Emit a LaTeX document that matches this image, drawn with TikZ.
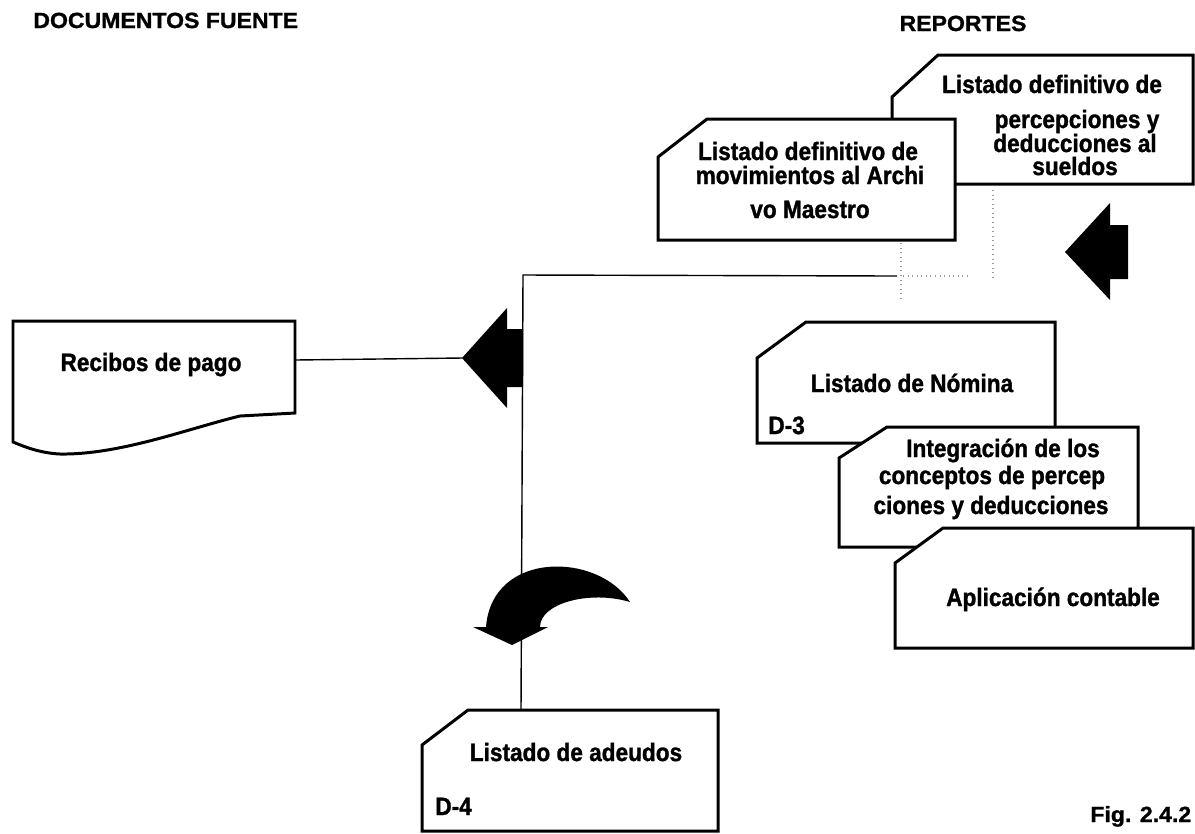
\documentclass[tikz,border=0pt]{standalone}
\usepackage{fontspec}
\setmainfont{Liberation Sans}
\newfontfamily\sheetfont[FakeBold=1.2,FakeStretch=0.9]{Liberation Sans Bold}
\newfontfamily\headfont[FakeBold=1.2,FakeStretch=1.05]{Liberation Sans Bold}
\begin{document}
\begin{tikzpicture}[x=0.02cm,y=-0.02cm,
  doc/.style={draw=black,fill=white,line width=1.7pt,line join=miter},
  lbl/.style={font=\sheetfont\fontsize{14.3}{16}\selectfont,inner sep=0pt,anchor=base},
  lblw/.style={lbl,anchor=base west},
  heading/.style={font=\headfont\fontsize{12.5}{15}\selectfont,inner sep=0pt},
  wire/.style={draw=black,line width=0.8pt},
  faint/.style={draw=black!40,line width=0.6pt,dotted},
  block/.style={fill=black}]
\useasboundingbox (0,0) rectangle (1195,833);

% headings
\node[heading,anchor=base west] (hsrc) at (33,28) {DOCUMENTOS FUENTE};
\node[heading,anchor=base] (hrep) at (963,31) {REPORTES};
\node[heading,anchor=base west] (fig) at (1090,822) {Fig. 2.4.2};

% connector end points
\coordinate (recE) at (295,360);
\coordinate (larTip) at (462,358);
\coordinate (junc) at (523,275);
\coordinate (lineE) at (897,276);
\coordinate (adeN) at (521,710);
\coordinate (dv1a) at (901,243);
\coordinate (dv1b) at (901,302);
\coordinate (dv2a) at (993,190);
\coordinate (dv2b) at (993,278);
\coordinate (dha) at (903,276);
\coordinate (dhb) at (967,276);

% connectors
\draw[wire] (recE) -- (larTip);
\draw[wire] (lineE) -- (junc) -- (adeN);
\draw[faint] (dv1a) -- (dv1b);
\draw[faint] (dv2a) -- (dv2b);
\draw[faint] (dha) -- (dhb);

% report sheets (back to front)
\draw[doc] (938,55) -- (1193,55) -- (1193,184) -- (892,184) -- (892,97) -- cycle;
\draw[doc] (707,119) -- (955,119) -- (955,240) -- (658,240) -- (658,157) -- cycle;
\draw[doc] (806,322) -- (1055,322) -- (1055,443) -- (757,443) -- (757,358) -- cycle;
\draw[doc] (887,427) -- (1138,427) -- (1138,547) -- (839,547) -- (839,458) -- cycle;
\draw[doc] (943,528) -- (1193,528) -- (1193,648) -- (895,648) -- (895,563) -- cycle;
\draw[doc] (468,710) -- (718,710) -- (718,831) -- (422,831) -- (422,745) -- cycle;

% source document
\draw[doc] (13,321) -- (295,321) -- (295,413) -- (240,416)
  .. controls (190,428) and (120,455) .. (60,454)
  .. controls (40,453) and (25,447) .. (13,442) -- cycle;

% block arrows
\fill[block] (462,358) -- (507,308) -- (507,329) -- (523,329) -- (523,387)
  -- (507,387) -- (507,408) -- cycle;
\fill[block] (1065,252) -- (1110,203) -- (1110,225) -- (1128,225) -- (1128,279)
  -- (1110,279) -- (1110,300) -- cycle;
% curved arrow
\fill[block] (630,602) .. controls (598,552) and (492,550) .. (486,627)
  -- (473,627) -- (512,645) -- (548,627) -- (540,627)
  .. controls (540,603) and (590,590) .. (630,602) -- cycle;

% sheet texts
\node[lbl] (perc1) at (1052,93) {Listado definitivo de};
\node[lbl] (perc2) at (1077,128) {percepciones y};
\node[lbl] (perc3) at (1075,152) {deducciones al};
\node[lbl] (perc4) at (1075,175) {sueldos};

\node[lbl] (mov1) at (808,160) {Listado definitivo de};
\node[lbl] (mov2) at (810,184) {movimientos al Archi};
\node[lbl] (mov3) at (810,218) {vo Maestro};

\node[lbl] (nom) at (912,392) {Listado de Nómina};
\node[lblw] (nomid) at (768,434) {D-3};

\node[lbl] (int1) at (1003,457) {Integración de los};
\node[lbl] (int2) at (992,484) {conceptos de percep};
\node[lbl] (int3) at (991,514) {ciones y deducciones};

\node[lbl] (apl) at (1053,606) {Aplicación contable};

\node[lbl] (ade) at (576,761) {Listado de adeudos};
\node[lblw] (adeid) at (435,815) {D-4};

\node[lbl] (rec) at (151,371) {Recibos de pago};
\end{tikzpicture}
\end{document}
